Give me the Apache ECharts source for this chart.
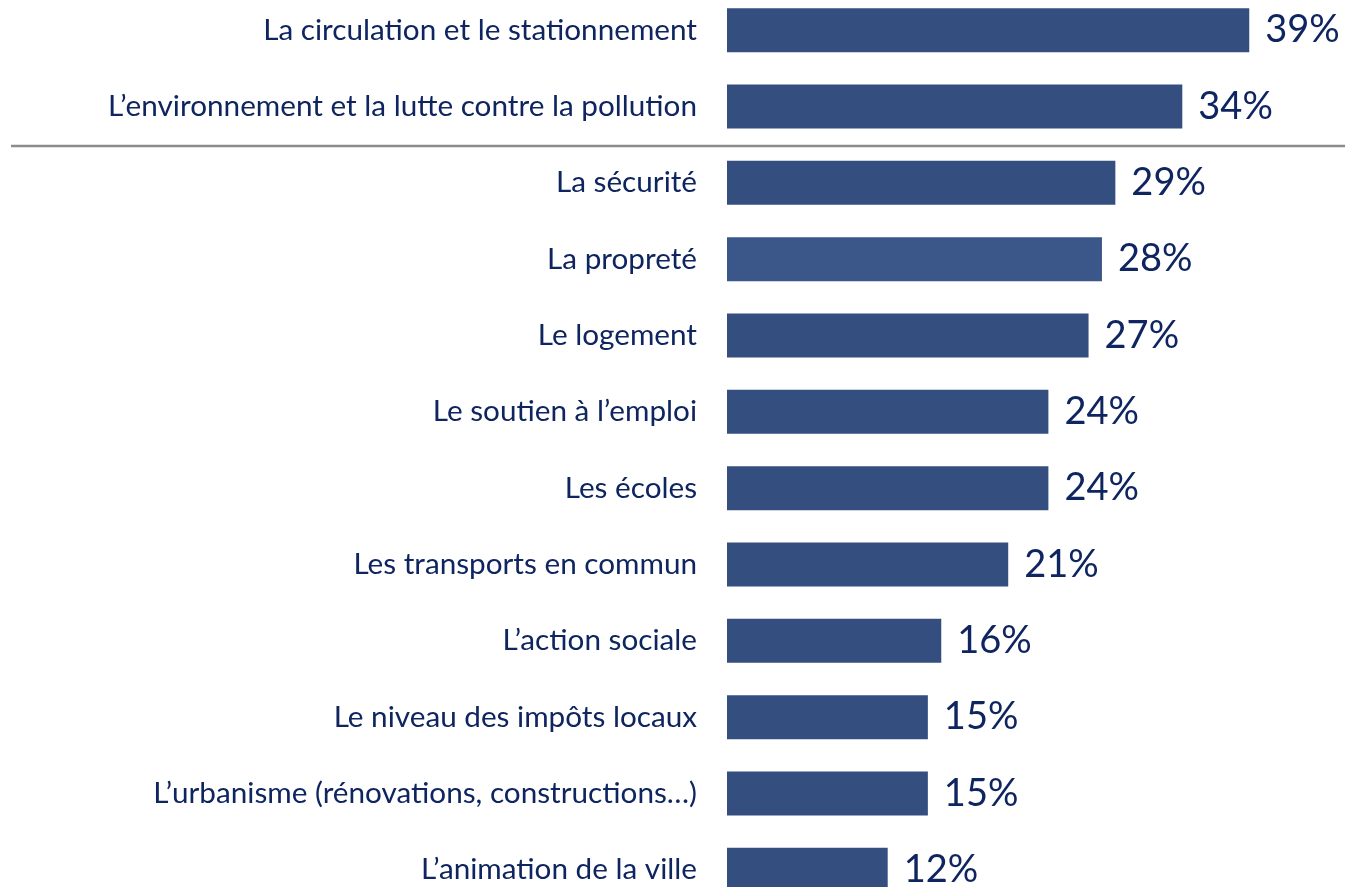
<!DOCTYPE html>
<html lang="fr">
<head>
    <meta charset="UTF-8">
    <title>Priorités</title>
    <script src="https://cdn.jsdelivr.net/npm/echarts@6/dist/echarts.min.js"></script>
    <style>
        html, body { margin: 0; padding: 0; background: #fff; overflow: hidden; }
    </style>
</head>
<body>
<!-- taller than the window: the last bar is cut by the bottom edge -->
<div id="chart" style="width: 1345px;height:916px;margin-top:-8px;"></div>

<script type="text/javascript">
    var categories = [
        "La circulation et le stationnement",
        "L\u2019environnement et la lutte contre la pollution",
        "La sécurité",
        "La propreté",
        "Le logement",
        "Le soutien à l\u2019emploi",
        "Les écoles",
        "Les transports en commun",
        "L\u2019action sociale",
        "Le niveau des impôts locaux",
        "L\u2019urbanisme (rénovations, constructions\u2026)",
        "L\u2019animation de la ville"
    ];
    var values = [39, 34, 29, 28, 27, 24, 24, 21, 16, 15, 15, 12];
    // the 2 first items are set apart by a rule
    var splitAfter = 2;

    var barColor = "#344f7f";
    var textColor = "#0f2560";

    var myChart = echarts.init(document.getElementById('chart'));

    var option = {
        animation: false,
        grid: {
            left: 727,
            right: 2,
            top: 0,
            bottom: 0
        },
        xAxis: {
            type: 'value',
            min: 0,
            max: 46,
            show: false
        },
        yAxis: {
            type: 'category',
            data: categories,
            inverse: true,
            axisLine: {show: false},
            axisTick: {show: false},
            axisLabel: {
                margin: 30,
                fontFamily: 'Lato',
                fontSize: 29.7,
                color: textColor
            }
        },
        series: [{
            type: 'bar',
            barWidth: 44,
            data: values.map(function (v, i) {
                return {
                    value: v,
                    itemStyle: {color: i === 3 ? "#3b5789" : barColor}
                };
            }),
            label: {
                show: true,
                position: 'right',
                distance: 16,
                formatter: '{c}%',
                fontFamily: 'Lato',
                fontSize: 38,
                color: textColor
            }
        }]
    };
    myChart.setOption(option);

    // grey separator between the top items and the rest
    var y1 = myChart.convertToPixel({yAxisIndex: 0}, categories[splitAfter - 1]);
    var y2 = myChart.convertToPixel({yAxisIndex: 0}, categories[splitAfter]);
    var ySep = Math.round((y1 + y2) / 2) + 1;
    myChart.setOption({
        graphic: [{
            type: 'line',
            shape: {x1: 11, y1: ySep, x2: 1345, y2: ySep},
            style: {stroke: '#8c8c8c', lineWidth: 2.5}
        }]
    });
</script>
</body>
</html>
